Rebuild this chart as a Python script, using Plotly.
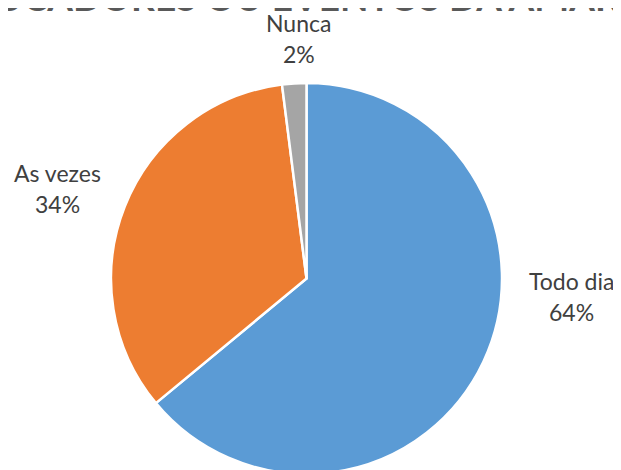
import plotly.graph_objects as go

# dados
categorias = ["Todo dia", "As vezes", "Nunca"]
valores = [64, 34, 2]
cores = ["#5B9BD5", "#ED7D31", "#A5A5A5"]
titulo = "EDUCADORES OU EVENTOS DA AMARELINHA"

# posicao dos rotulos (px, centro das maiusculas, coords da figura)
rotulos_xy = [(563, 272.5), (49.5, 165.5), (290.5, 15)]
passo_linha = 31

W, H = 621, 470

fig = go.Figure()
fig.add_trace(go.Pie(
    labels=categorias, values=valores,
    marker=dict(colors=cores, line=dict(color="white", width=2.5)),
    sort=False, direction="clockwise", rotation=0,
    textinfo="none", hoverinfo="label+percent",
    domain=dict(x=[103 / W, 494 / W], y=[4 / H, 395 / H]),
    showlegend=False,
))

anots = []
for nome, v, (x, y) in zip(categorias, valores, rotulos_xy):
    for i, txt in enumerate([nome, f"{v}%"]):
        anots.append(dict(
            x=x / W, y=1 - (y + i * passo_linha) / H, xref="paper", yref="paper",
            text=txt, showarrow=False, xanchor="center", yanchor="middle",
            yshift=0,
            font=dict(family="Lato", size=23, color="#404040"),
        ))

anots.append(dict(
    x=-64 / W, y=1, xref="paper", yref="paper", xanchor="left", yanchor="middle",
    yshift=12,
    text=f"<b>{titulo}</b>", showarrow=False,
    font=dict(family="Lato", size=37, color="#595959"),
))

fig.update_layout(
    width=W, height=H,
    margin=dict(l=0, r=0, t=0, b=0),
    paper_bgcolor="white", plot_bgcolor="white",
    annotations=anots,
)

fig.write_html("out.html")
